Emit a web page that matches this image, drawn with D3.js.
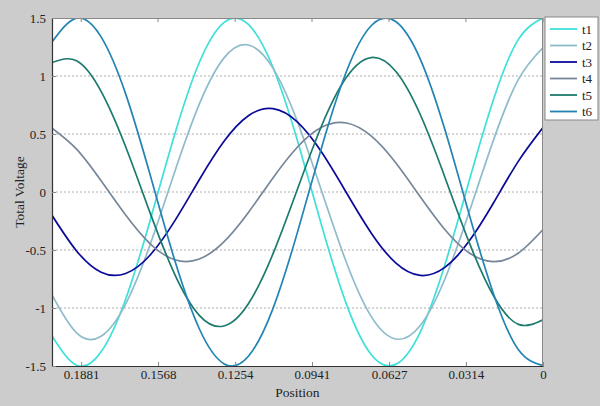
<!DOCTYPE html>
<html>
<head>
<meta charset="utf-8">
<script src="https://cdn.jsdelivr.net/npm/d3@7"></script>
<style>
  body { margin: 0; background: #cccccc; }
  svg { display: block; }
  svg text { font-family: "Liberation Serif", "Times New Roman", Times, "DejaVu Serif", serif; }
</style>
</head>
<body>
<svg id="chart" width="600" height="406"></svg>
<script>
'use strict';

// positions sampled every 0.01, from 0 up to 0.2
const positions = [0, 0.01, 0.02, 0.03, 0.04, 0.05, 0.06, 0.07, 0.08, 0.09, 0.10,
    0.11, 0.12, 0.13, 0.14, 0.15, 0.16, 0.17, 0.18, 0.19, 0.20];

const t1 = [1.5, 1.316, 0.808, 0.101, -0.630, -1.207, -1.486, -1.401, -0.971, -0.302, 0.441,
    1.075, 1.445, 1.460, 1.116, 0.498, -0.243, -0.924, -1.378, -1.493, -1.241];
const t2 = [1.245, 0.971, 0.458, -0.168, -0.752, -1.151, -1.267, -1.072, -0.612, -0.003, 0.606,
    1.068, 1.267, 1.154, 0.757, 0.175, -0.451, -0.966, -1.243, -1.215, -0.888];
const t3 = [0.555, 0.266, -0.088, -0.421, -0.650, -0.719, -0.611, -0.353, -0.009, 0.338, 0.602,
    0.718, 0.657, 0.435, 0.106, -0.249, -0.543, -0.703, -0.691, -0.508, -0.201];
const t4 = [-0.323, -0.526, -0.600, -0.526, -0.323, -0.041, 0.252, 0.483, 0.595, 0.560, 0.388,
    0.121, -0.176, -0.430, -0.578, -0.584, -0.447, -0.199, 0.097, 0.370, 0.551];
const t5 = [-1.101, -1.141, -0.901, -0.439, 0.130, 0.668, 1.041, 1.159, 0.991, 0.580, 0.026,
    -0.534, -0.963, -1.155, -1.063, -0.710, -0.182, 0.390, 0.867, 1.131, 1.116];
const t6 = [-1.497, -1.360, -0.888, -0.198, 0.540, 1.146, 1.470, 1.433, 1.043, 0.397, -0.346,
    -1.005, -1.416, -1.480, -1.179, -0.589, 0.146, 0.846, 1.337, 1.499, 1.293];

const seriesNames = ['t1', 't2', 't3', 't4', 't5', 't6'];
const seriesValues = [t1, t2, t3, t4, t5, t6];
const colors = ['#3ee0da', '#8fbccb', '#0a0a9a', '#76879a', '#1c7a6c', '#2284b4'];

const xTicks = [0.1881, 0.1568, 0.1254, 0.0941, 0.0627, 0.0314, 0];
const xTickLabels = ['0.1881', '0.1568', '0.1254', '0.0941', '0.0627', '0.0314', '0'];
const yTicks = [-1.5, -1, -0.5, 0, 0.5, 1, 1.5];
const yTickLabels = ['-1.5', '-1', '-0.5', '0', '0.5', '1', '1.5'];

const margin = {top: 18, right: 57, bottom: 40, left: 52};
const width = 600 - margin.left - margin.right;
const height = 406 - margin.top - margin.bottom;

const svg = d3.select('#chart');
const g = svg.append('g').attr('transform', `translate(${margin.left},${margin.top})`);

const x = d3.scaleLinear().domain([0.2, 0]).range([0, width]);
const y = d3.scaleLinear().domain([-1.5, 1.5]).range([height, 0]);

g.append('rect')
    .attr('width', width)
    .attr('height', height)
    .attr('fill', '#ffffff');

// dashed horizontal grid
g.append('g')
    .selectAll('line')
    .data(yTicks.slice(1, -1))
    .join('line')
    .attr('x1', 0)
    .attr('x2', width)
    .attr('y1', d => y(d))
    .attr('y2', d => y(d))
    .attr('stroke', '#999999')
    .attr('stroke-width', 0.8)
    .attr('stroke-dasharray', '2,2');

const line = d3.line()
    .x((d, i) => x(positions[i]))
    .y(d => y(d))
    .curve(d3.curveNatural);

const plot = g.append('g');
plot.append('clipPath').attr('id', 'clip')
    .append('rect').attr('width', width).attr('height', height);

plot.selectAll('path')
    .data(seriesValues)
    .join('path')
    .attr('clip-path', 'url(#clip)')
    .attr('d', line)
    .attr('fill', 'none')
    .attr('stroke', (d, i) => colors[i])
    .attr('stroke-width', 1.7);

// frame: top and right light, left and bottom dark
g.append('line').attr('x1', 0).attr('x2', width).attr('y1', 0.5).attr('y2', 0.5)
    .attr('stroke', '#888888');
g.append('line').attr('x1', width - 0.5).attr('x2', width - 0.5).attr('y1', 0).attr('y2', height)
    .attr('stroke', '#888888');

const xAxis = g.append('g')
    .attr('transform', `translate(0,${height})`)
    .call(d3.axisBottom(x).tickValues(xTicks).tickFormat((d, i) => xTickLabels[i])
        .tickSizeInner(-4).tickSizeOuter(0).tickPadding(4));

const yAxis = g.append('g')
    .call(d3.axisLeft(y).tickValues(yTicks).tickFormat((d, i) => yTickLabels[i]).tickSizeInner(-4)
        .tickSizeOuter(0).tickPadding(6));

// small ticks on the top edge
g.append('g')
    .selectAll('line')
    .data(xTicks)
    .join('line')
    .attr('x1', d => x(d))
    .attr('x2', d => x(d))
    .attr('y1', 0)
    .attr('y2', 4)
    .attr('stroke', '#888888');

[xAxis, yAxis].forEach(axis => {
    axis.attr('font-family', null);
    axis.selectAll('text')
        .attr('fill', '#222222')
        .style('font-size', '13px');
    axis.selectAll('.domain').attr('stroke', '#333333').attr('stroke-width', 1.2);
    axis.selectAll('.tick line').attr('stroke', '#888888');
});

svg.append('text')
    .attr('x', margin.left + width / 2)
    .attr('y', 397)
    .attr('text-anchor', 'middle')
    .attr('font-size', 13.5)
    .attr('fill', '#222222')
    .text('Position');

svg.append('text')
    .attr('transform', `translate(24,${margin.top + height / 2}) rotate(-90)`)
    .attr('text-anchor', 'middle')
    .attr('font-size', 13.5)
    .attr('fill', '#222222')
    .text('Total Voltage');

// legend
const legend = svg.append('g').attr('transform', 'translate(545,17)');
legend.append('rect')
    .attr('width', 53)
    .attr('height', 103)
    .attr('fill', '#ffffff')
    .attr('stroke', '#888888');

const entries = legend.selectAll('g.entry')
    .data(seriesNames)
    .join('g')
    .attr('class', 'entry')
    .attr('transform', (d, i) => `translate(0,${12 + i * 16.5})`);

entries.append('line')
    .attr('x1', 5)
    .attr('x2', 32)
    .attr('stroke', (d, i) => colors[i])
    .attr('stroke-width', 1.8);

entries.append('text')
    .attr('x', 37)
    .attr('dy', '0.35em')
    .attr('font-size', 13)
    .attr('fill', '#222222')
    .text(d => d);
</script>
</body>
</html>
